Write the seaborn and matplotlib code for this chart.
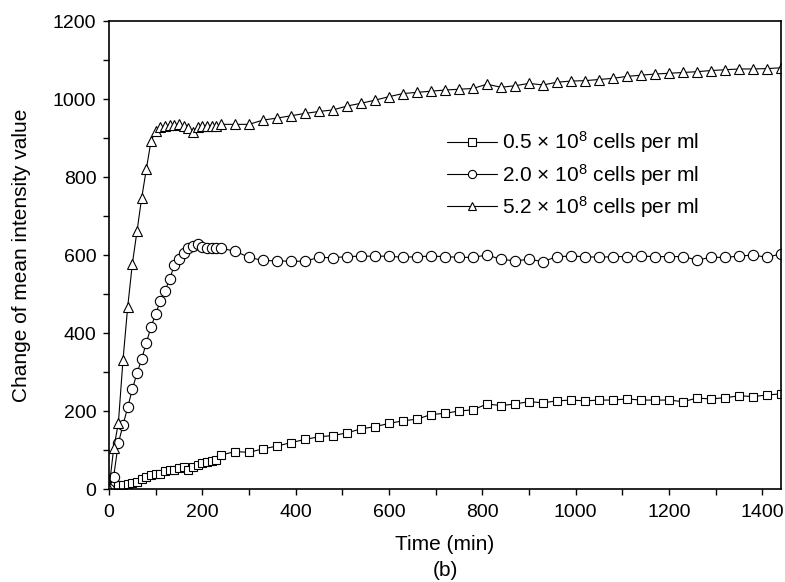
import matplotlib
matplotlib.use("Agg")
import matplotlib.pyplot as plt
from matplotlib.ticker import MultipleLocator
import pandas as pd
import seaborn as sns

# Sampling times (min): every 10 min for the first 4 h, then every 30 min
time_min = [0, 10, 20, 30, 40, 50, 60, 70, 80, 90, 100, 110, 120, 130, 140,
            150, 160, 170, 180, 190, 200, 210, 220, 230, 240,
            270, 300, 330, 360, 390, 420, 450, 480, 510, 540, 570, 600,
            630, 660, 690, 720, 750, 780, 810, 840, 870, 900, 930, 960, 990,
            1020, 1050, 1080, 1110, 1140, 1170, 1200, 1230, 1260, 1290, 1320,
            1350, 1380, 1410, 1440]

# Change of mean intensity value for each cell density
low_density = [0, 10, 10, 11, 13, 15, 19, 26, 32, 36, 38, 38, 47, 50, 49,
               53, 56, 50, 57, 62, 66, 70, 73, 74, 87,
               96, 94, 103, 110, 119, 127, 134, 137, 144, 154, 160, 168,
               175, 179, 191, 194, 200, 203, 218, 214, 218, 224, 221, 226, 228,
               226, 228, 228, 231, 228, 228, 228, 224, 233, 231, 234,
               239, 237, 241, 244]

mid_density = [0, 32, 117, 164, 209, 256, 297, 333, 375, 415, 449, 482, 508, 538, 574,
               591, 605, 617, 624, 627, 621, 619, 617, 617, 617,
               610, 594, 586, 585, 584, 584, 594, 593, 596, 597, 597, 597,
               594, 596, 597, 596, 594, 594, 600, 589, 585, 589, 583, 596, 597,
               596, 594, 596, 596, 597, 596, 596, 596, 587, 594, 594,
               597, 600, 594, 603]

high_density = [0, 104, 168, 331, 466, 577, 661, 746, 820, 892, 917, 929, 931, 933, 933,
                936, 931, 925, 915, 928, 930, 931, 931, 931, 935,
                935, 935, 946, 951, 957, 963, 968, 972, 982, 989, 997, 1006,
                1014, 1017, 1020, 1023, 1025, 1027, 1038, 1030, 1034, 1040, 1036, 1043, 1046,
                1047, 1050, 1053, 1058, 1061, 1064, 1066, 1068, 1070, 1073, 1075,
                1077, 1077, 1078, 1080]

series_labels = ["0.5 \u00d7 10$^{8}$ cells per ml",
                 "2.0 \u00d7 10$^{8}$ cells per ml",
                 "5.2 \u00d7 10$^{8}$ cells per ml"]

x_ticks = [0, 200, 400, 600, 800, 1000, 1200, 1400]
y_ticks = [0, 200, 400, 600, 800, 1000, 1200]

sns.set_theme(style="white")
plt.rcParams["font.family"] = ["Liberation Sans", "DejaVu Sans"]
plt.rcParams["mathtext.fontset"] = "custom"
plt.rcParams["mathtext.rm"] = "Liberation Sans"
plt.rcParams["mathtext.default"] = "regular"
plt.rcParams["text.color"] = "black"
plt.rcParams["axes.labelcolor"] = "black"

fig = plt.figure(figsize=(7.85, 5.82), dpi=100)
ax = fig.add_axes([109 / 785, 1 - 489 / 582, (781 - 109) / 785, (489 - 21) / 582])

styles = [("s", 6.4), ("o", 7.4), ("^", 7.6)]
for values, label, (mk, ms) in zip([low_density, mid_density, high_density],
                                   series_labels, styles):
    df = pd.DataFrame({"time": time_min, "value": values})
    sns.lineplot(data=df, x="time", y="value", ax=ax, color="black",
                 linewidth=0.8, marker=mk, markersize=ms,
                 markerfacecolor="white", markeredgecolor="black",
                 markeredgewidth=0.8, label=label)

ax.set_xlim(0, 1440)
ax.set_ylim(0, 1200)
ax.set_xticks(x_ticks)
ax.set_yticks(y_ticks)
ax.xaxis.set_minor_locator(MultipleLocator(100))
ax.yaxis.set_minor_locator(MultipleLocator(100))
ax.tick_params(which="both", direction="out", length=4, width=1.0,
               color="black", labelsize=14, labelcolor="black",
               bottom=True, left=True, top=False, right=False)
ax.tick_params(axis="x", pad=7)
ax.tick_params(axis="y", pad=5)
for sp in ax.spines.values():
    sp.set_color("black")
    sp.set_linewidth(1.2)

ax.set_xlabel("Time (min)", fontsize=15, color="black", labelpad=10)
ax.set_ylabel("Change of mean intensity value", fontsize=15, color="black", labelpad=16)
fig.text(445 / 785, 1 - 571 / 582, "(b)", ha="center", va="center",
         fontsize=15, color="black")

leg = ax.legend(loc="upper left", bbox_to_anchor=(0.49, 0.786), frameon=False,
                fontsize=15, handlelength=2.4, handletextpad=0.25,
                labelspacing=0.3, markerscale=0.8, borderaxespad=0)
for txt in leg.get_texts():
    txt.set_color("black")

fig.savefig("out.png", dpi=100)
